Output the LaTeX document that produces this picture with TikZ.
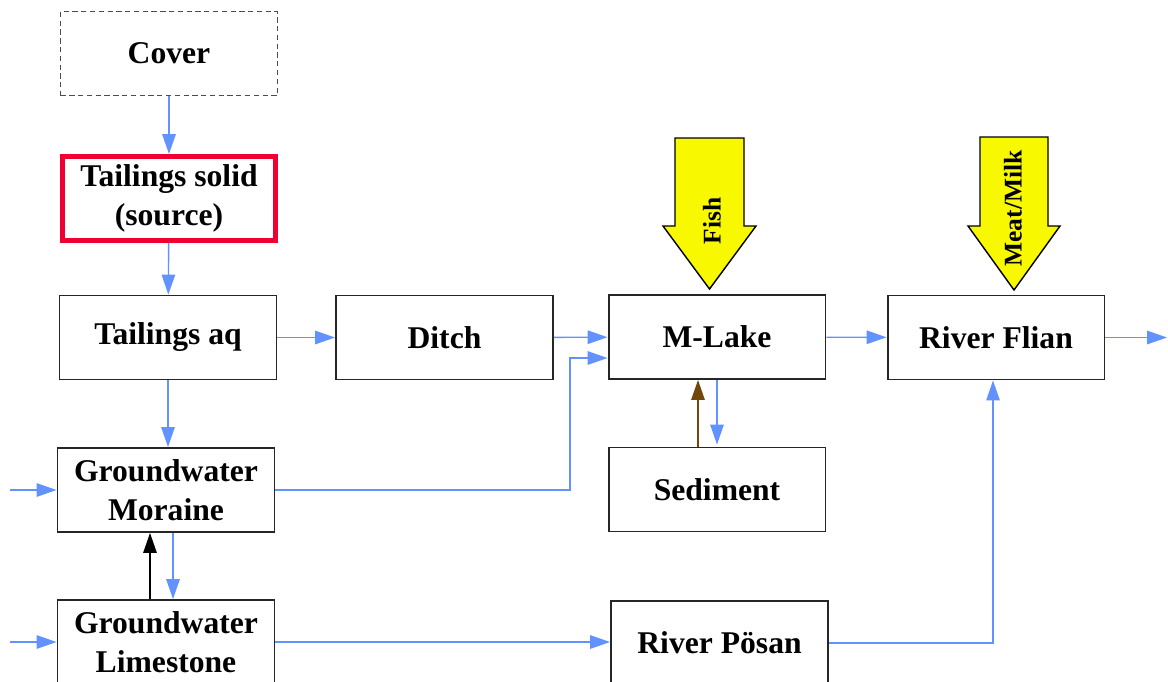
\documentclass[tikz,border=0pt]{standalone}
\usepackage{fontspec}
\setmainfont{Liberation Serif}
\usepackage{xcolor}
\usetikzlibrary{arrows.meta}
\usetikzlibrary{calc}
\definecolor{flowblue}{RGB}{98,146,255}
\definecolor{sedbrown}{RGB}{115,70,10}
\definecolor{fatyellow}{RGB}{248,248,0}
\definecolor{srcred}{RGB}{240,0,50}
\tikzstyle{comp}=[
        rectangle,
        draw=black!85,
        line width=1.1pt,
        minimum width=4.34cm,
        minimum height=1.68cm,
        align=center,
        inner sep=2pt,
        font=\fontsize{18}{22}\selectfont\bfseries
]
\tikzstyle{coverbox}=[comp,draw=black!70,line width=0.6pt,dash pattern=on 3pt off 2pt]
\tikzstyle{sourcebox}=[comp,draw=srcred,line width=2.8pt,minimum width=4.26cm]
\tikzstyle{flow}=[-{Triangle[length=0.4cm,width=0.27cm]},flowblue,line width=0.8pt]
\tikzstyle{backflow}=[flow,black]
\tikzstyle{sedflow}=[flow,sedbrown]
\tikzstyle{fatarrow}=[draw=black,fill=fatyellow,line width=0.8pt,line join=miter]
\tikzstyle{food}=[rotate=90,inner sep=0pt,font=\fontsize{14.5}{17}\selectfont\bfseries]

\begin{document}
\begin{tikzpicture}[x=0.02cm,y=-0.02cm]
\useasboundingbox (0,0) rectangle (1168,681);
\node[coverbox] (cover) at (169,53.5) {Cover};
\node[sourcebox] (solid) at (169,198.5) {Tailings solid\\(source)};
\node[comp] (aq) at (168,337.5) {Tailings aq};
\node[comp] (ditch) at (444.5,337.5) {Ditch};
\node[comp] (mlake) at (717,337) {M-Lake};
\node[comp] (flian) at (996,337.5) {River Flian};
\node[comp] (moraine) at (166,490) {Groundwater\\Moraine};
\node[comp] (sediment) at (717,489.5) {Sediment};
\node[comp] (limestone) at (166,642) {Groundwater\\Limestone};
\node[comp] (posan) at (719.5,643) {River P\"osan};
% intake arrows
\draw[fatarrow] (675,138) -- (744,138) -- (744,226) -- (756,226) -- (709.5,289)
  -- (663,226) -- (675,226) -- cycle;
\node[food] (fish) at (712,221) {Fish};
\draw[fatarrow] (980,137) -- (1048,137) -- (1048,226) -- (1060,226) -- (1014,290)
  -- (968,226) -- (980,226) -- cycle;
\node[food] (meat) at (1013,208.5) {Meat/Milk};
% free ends
\coordinate (inmor) at (10,490);
\coordinate (inlim) at (10,642);
\coordinate (out) at (1167,337.5);
\coordinate (bend) at (570,358);
% flows
\draw[flow] (cover) -- (solid);
\draw[flow] (solid) -- (aq);
\draw[flow] (aq) -- (ditch);
\draw[flow] (ditch) -- (mlake);
\draw[flow] (mlake) -- (flian);
\draw[flow] (flian.east) -- (out);
\draw[flow] (aq.south) -- (aq.south |- moraine.north);
\draw[flow] (inmor) -- (moraine.west);
\draw[flow] (inlim) -- (limestone.west);
\draw[flow] (moraine.east) -| (bend) -- (bend -| mlake.west);
\draw[flow] ($(moraine.south)+(7,0)$) -- ($(limestone.north)+(7,0)$);
\draw[backflow] ($(limestone.north)+(-16,0)$) -- ($(moraine.south)+(-16,0)$);
\draw[flow] (limestone.east) -- (limestone.east -| posan.west);
\draw[flow] (posan.east) -| ($(flian.south)+(-3,0)$);
\draw[flow] (mlake.south) -- ($(sediment.north)+(0,-2)$);
\draw[sedflow] ($(sediment.north)+(-19,0)$) -- ($(mlake.south)+(-19,0)$);
\end{tikzpicture}
\end{document}
